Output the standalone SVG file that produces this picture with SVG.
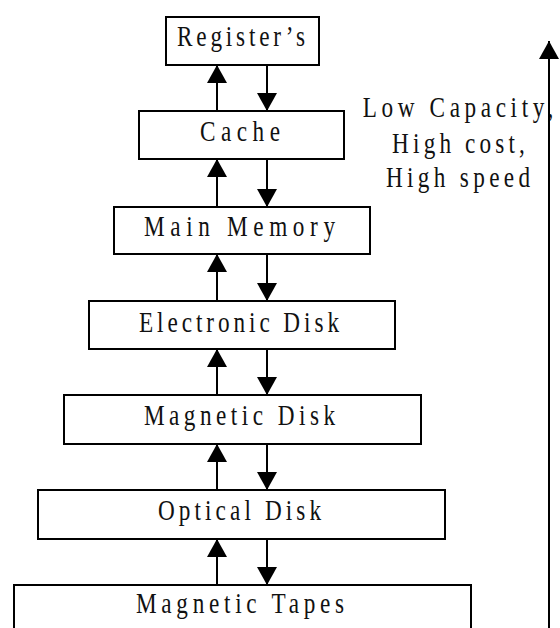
<svg xmlns="http://www.w3.org/2000/svg" width="560" height="628" viewBox="0 0 560 628">
<defs>
<style>
.box{fill:#fff;stroke:#000;stroke-width:2}
.lbl{font-family:"Liberation Serif","Times New Roman",serif;font-size:29px;fill:#111;text-anchor:middle}
.con{stroke:#000;stroke-width:2;fill:none;marker-end:url(#ah)}
</style>
<marker id="ah" markerUnits="userSpaceOnUse" markerWidth="20" markerHeight="20" viewBox="0 0 18 20" refX="18" refY="10" orient="auto">
<path d="M0,0 L18,10 L0,20 z" fill="#000"/>
</marker>
</defs>
<rect width="560" height="628" fill="#fff"/>
<g id="registers"><rect class="box" x="166" y="17" width="153" height="48"/>
<g transform="translate(241,46) scale(0.8,1)"><text class="lbl" x="0" y="0" textLength="160" lengthAdjust="spacing">Register’s</text></g></g>
<g id="cache"><rect class="box" x="139" y="111" width="205" height="48"/>
<g transform="translate(240,141) scale(0.8,1)"><text class="lbl" x="0" y="0" textLength="100" lengthAdjust="spacing">Cache</text></g></g>
<g id="main-memory"><rect class="box" x="114" y="207" width="256" height="47"/>
<g transform="translate(239.5,236) scale(0.8,1)"><text class="lbl" x="0" y="0" textLength="239" lengthAdjust="spacing">Main Memory</text></g></g>
<g id="electronic-disk"><rect class="box" x="89" y="301" width="306" height="48"/>
<g transform="translate(239,332) scale(0.8,1)"><text class="lbl" x="0" y="0" textLength="250" lengthAdjust="spacing">Electronic Disk</text></g></g>
<g id="magnetic-disk"><rect class="box" x="64" y="395" width="357" height="49"/>
<g transform="translate(239.5,425) scale(0.8,1)"><text class="lbl" x="0" y="0" textLength="239" lengthAdjust="spacing">Magnetic Disk</text></g></g>
<g id="optical-disk"><rect class="box" x="38" y="490" width="407" height="49"/>
<g transform="translate(239.5,520) scale(0.8,1)"><text class="lbl" x="0" y="0" textLength="204" lengthAdjust="spacing">Optical Disk</text></g></g>
<g id="magnetic-tapes"><rect class="box" x="14" y="585" width="457" height="60"/>
<g transform="translate(240,613) scale(0.8,1)"><text class="lbl" x="0" y="0" textLength="260" lengthAdjust="spacing">Magnetic Tapes</text></g></g>
<g id="note">
<g transform="translate(458,117) scale(0.8,1)"><text class="lbl" x="0" y="0" textLength="238" lengthAdjust="spacing">Low Capacity,</text></g>
<g transform="translate(458.5,153) scale(0.8,1)"><text class="lbl" x="0" y="0" textLength="166" lengthAdjust="spacing">High cost,</text></g>
<g transform="translate(458,187) scale(0.8,1)"><text class="lbl" x="0" y="0" textLength="180" lengthAdjust="spacing">High speed</text></g>
</g>
<g id="connectors">
<line class="con" x1="217" y1="111" x2="217" y2="65"/>
<line class="con" x1="267" y1="65" x2="267" y2="111"/>
<line class="con" x1="217" y1="207" x2="217" y2="159"/>
<line class="con" x1="267" y1="159" x2="267" y2="207"/>
<line class="con" x1="217" y1="301" x2="217" y2="254"/>
<line class="con" x1="267" y1="254" x2="267" y2="301"/>
<line class="con" x1="217" y1="395" x2="217" y2="349"/>
<line class="con" x1="267" y1="349" x2="267" y2="395"/>
<line class="con" x1="217" y1="490" x2="217" y2="444"/>
<line class="con" x1="267" y1="444" x2="267" y2="490"/>
<line class="con" x1="217" y1="585" x2="217" y2="539"/>
<line class="con" x1="267" y1="539" x2="267" y2="585"/>
<line class="con" x1="549" y1="628" x2="549" y2="41"/>
</g>
</svg>
